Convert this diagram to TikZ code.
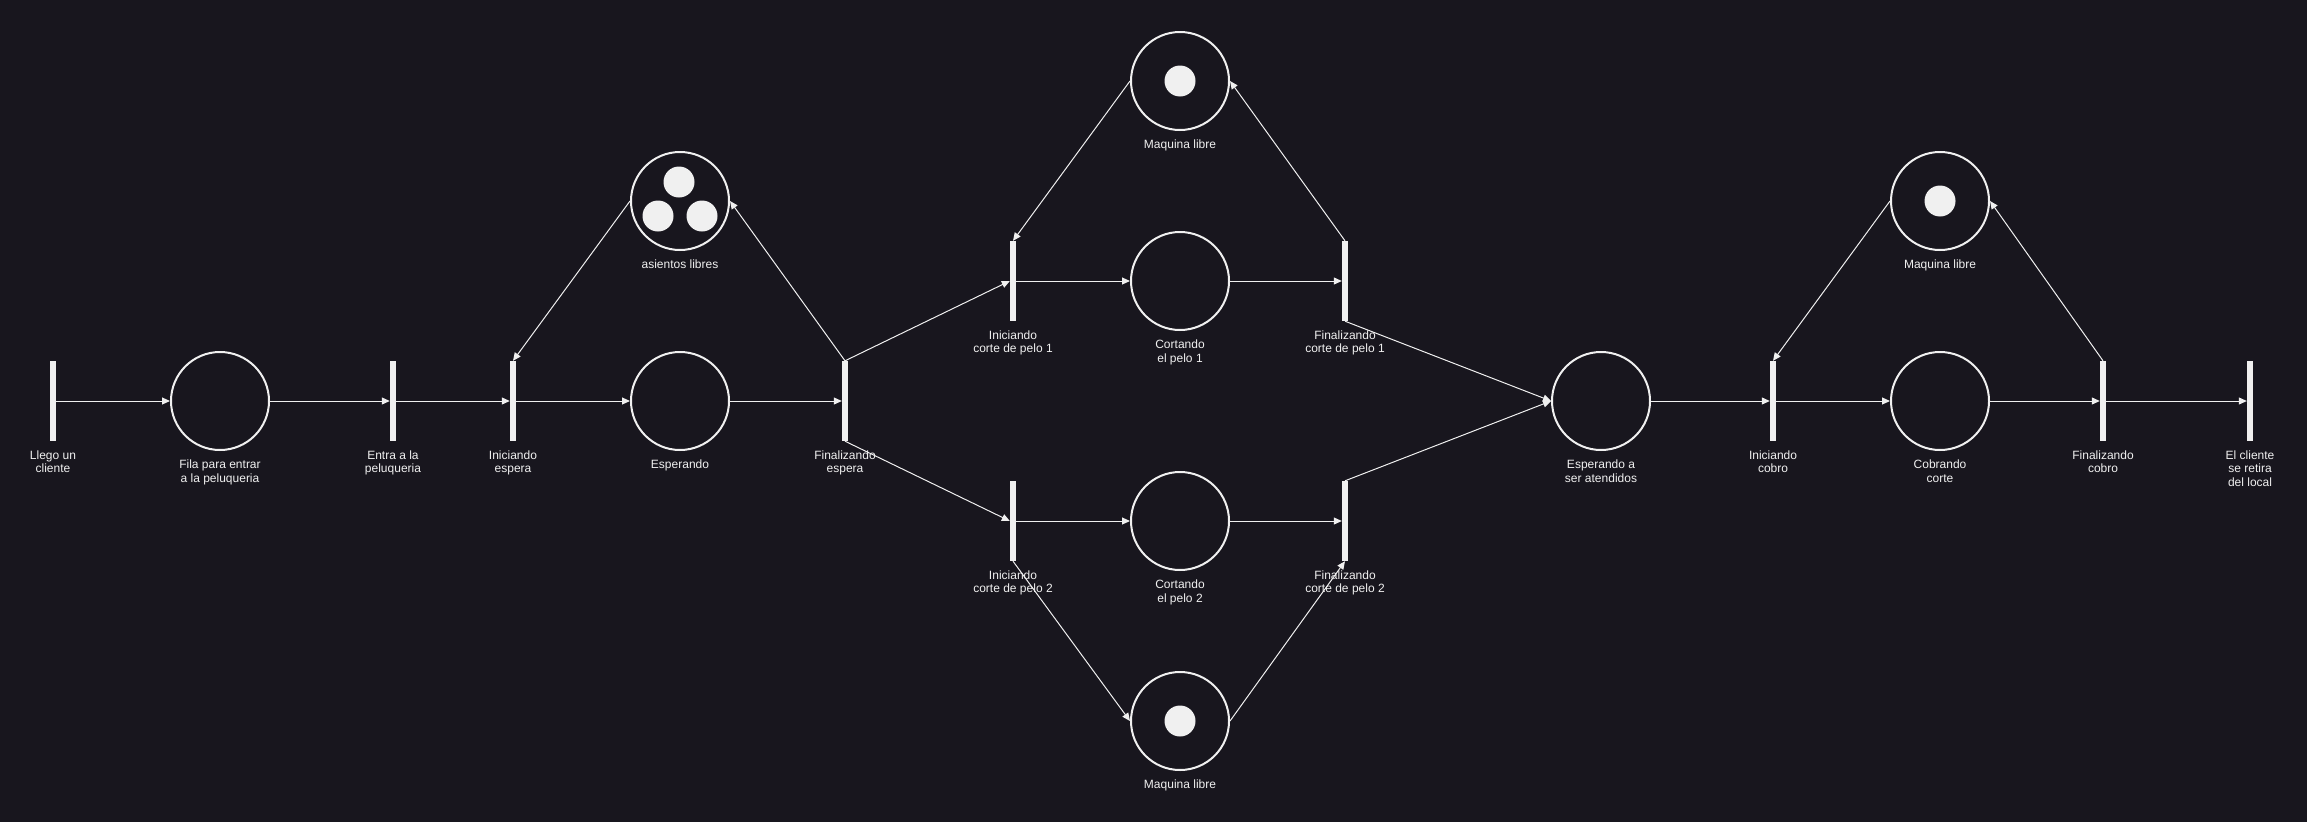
\documentclass[tikz,border=0pt]{standalone}
\usepackage{fontspec}
\setmainfont{Liberation Sans}
\usetikzlibrary{arrows.meta}
\definecolor{petribg}{HTML}{18161E}
\definecolor{petriwhite}{HTML}{F0F0F0}

\begin{document}
\begin{tikzpicture}[
        x=1pt, y=-1pt,
        every node/.style={font=\fontsize{12}{13.8}\selectfont, text=petriwhite},
        plaza/.style={
          circle, draw=petriwhite, line width=2pt,
          minimum size=98pt, inner sep=0pt,
        },
        trans/.style={
          rectangle, fill=petriwhite, inner sep=0pt,
          minimum width=6pt, minimum height=80pt,
        },
        tok/.style={circle, fill=petriwhite, minimum size=31pt, inner sep=0pt},
        arr/.style={-{Triangle[length=8pt,width=7pt]}, draw=petriwhite, line width=1pt},
        lbl/.style={align=center, inner sep=0pt, yshift=-9pt},
      ]
      \fill[petribg] (0,0) rectangle (2307,822);
      \useasboundingbox (0,0) rectangle (2307,822);

      % fila de entrada
      \node[trans, label={[lbl]below:{Llego un\\cliente}}] (llego) at (53,401) {};
      \node[plaza, label={[lbl]below:{Fila para entrar\\a la peluqueria}}] (fila) at (220,401) {};
      \node[trans, label={[lbl]below:{Entra a la\\peluqueria}}] (entra) at (393,401) {};
      \node[trans, label={[lbl]below:{Iniciando\\espera}}] (iesp) at (513,401) {};
      \node[plaza, label={[lbl]below:{asientos libres}}] (asi) at (680,201) {};
      \node[tok] (asi1) at (679,182) {};
      \node[tok] (asi2) at (658,216) {};
      \node[tok] (asi3) at (702,216) {};
      \node[plaza, label={[lbl]below:{Esperando}}] (esp) at (680,401) {};
      \node[trans, label={[lbl]below:{Finalizando\\espera}}] (fesp) at (845,401) {};

      % corte 1
      \node[trans, label={[lbl]below:{Iniciando\\corte de pelo 1}}] (ic1) at (1013,281) {};
      \node[plaza, label={[lbl]below:{Cortando\\el pelo 1}}] (c1) at (1180,281) {};
      \node[trans, label={[lbl]below:{Finalizando\\corte de pelo 1}}] (fc1) at (1345,281) {};
      \node[plaza, label={[lbl]below:{Maquina libre}}] (m1) at (1180,81) {};
      \node[tok] (m1t) at (m1) {};

      % corte 2
      \node[trans, label={[lbl]below:{Iniciando\\corte de pelo 2}}] (ic2) at (1013,521) {};
      \node[plaza, label={[lbl]below:{Cortando\\el pelo 2}}] (c2) at (1180,521) {};
      \node[trans, label={[lbl]below:{Finalizando\\corte de pelo 2}}] (fc2) at (1345,521) {};
      \node[plaza, label={[lbl]below:{Maquina libre}}] (m2) at (1180,721) {};
      \node[tok] (m2t) at (m2) {};

      % cobro
      \node[plaza, label={[lbl]below:{Esperando a\\ser atendidos}}] (eat) at (1601,401) {};
      \node[trans, label={[lbl]below:{Iniciando\\cobro}}] (icb) at (1773,401) {};
      \node[plaza, label={[lbl]below:{Cobrando\\corte}}] (cob) at (1940,401) {};
      \node[trans, label={[lbl]below:{Finalizando\\cobro}}] (fcb) at (2103,401) {};
      \node[plaza, label={[lbl]below:{Maquina libre}}] (m3) at (1940,201) {};
      \node[tok] (m3t) at (m3) {};
      \node[trans, label={[lbl]below:{El cliente\\se retira\\del local}}] (sale) at (2250,401) {};

      \draw[arr] (llego.east) -- (fila.west);
      \draw[arr] (fila.east) -- (entra.west);
      \draw[arr] (entra.east) -- (iesp.west);
      \draw[arr] (asi.west) -- (iesp.north);
      \draw[arr] (iesp.east) -- (esp.west);
      \draw[arr] (esp.east) -- (fesp.west);
      \draw[arr] (fesp.north) -- (asi.east);
      \draw[arr] (fesp.north) -- (ic1.west);
      \draw[arr] (fesp.south) -- (ic2.west);

      \draw[arr] (ic1.east) -- (c1.west);
      \draw[arr] (c1.east) -- (fc1.west);
      \draw[arr] (m1.west) -- (ic1.north);
      \draw[arr] (fc1.north) -- (m1.east);
      \draw[arr] (fc1.south) -- (eat.west);

      \draw[arr] (ic2.east) -- (c2.west);
      \draw[arr] (c2.east) -- (fc2.west);
      \draw[arr] (ic2.south) -- (m2.west);
      \draw[arr] (m2.east) -- (fc2.south);
      \draw[arr] (fc2.north) -- (eat.west);

      \draw[arr] (eat.east) -- (icb.west);
      \draw[arr] (icb.east) -- (cob.west);
      \draw[arr] (m3.west) -- (icb.north);
      \draw[arr] (cob.east) -- (fcb.west);
      \draw[arr] (fcb.north) -- (m3.east);
      \draw[arr] (fcb.east) -- (sale.west);
    \end{tikzpicture}
\end{document}
